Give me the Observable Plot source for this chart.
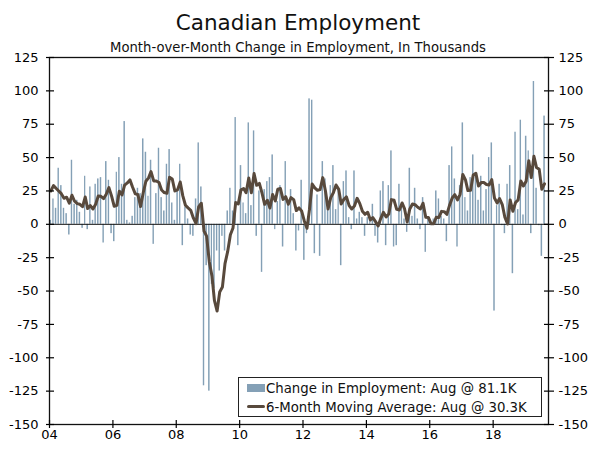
<!DOCTYPE html>
<html>
<head>
<meta charset="utf-8">
<script src="https://cdn.jsdelivr.net/npm/d3@7"></script>
<script src="https://cdn.jsdelivr.net/npm/@observablehq/plot@0.6"></script>
<style>
  body { margin: 0; background: #fff; font-family: "DejaVu Sans", Verdana, sans-serif; }
  #wrap { position: relative; width: 600px; height: 452px; overflow: hidden; background: #fff; }
  #title { position: absolute; left: 0; width: 596px; top: 12px; text-align: center; font-size: 21.5px; line-height: 21.5px; color: #111; white-space: nowrap; }
  #subtitle { position: absolute; left: 0; width: 596px; top: 41px; text-align: center; font-size: 13.2px; line-height: 13px; color: #111; white-space: nowrap; }
  #chart { position: absolute; left: 0; top: 44px; }
  #legend { position: absolute; left: 238px; top: 377px; width: 302px; height: 38px; border: 1px solid #222; background: #fff; }
  #legend .sw { position: absolute; }
  #legend .tx { position: absolute; left: 27px; font-size: 13.3px; line-height: 13px; color: #111; white-space: nowrap; }
</style>
</head>
<body>
<div id="wrap">
  <div id="title">Canadian Employment</div>
  <div id="subtitle">Month-over-Month Change in Employment, In Thousands</div>
  <div id="chart"></div>
  <div id="legend"></div>
</div>
<script>
// ---- Data (thousands, monthly, Jan 2004 – Aug 2019) ----
const startYear = 2004;
const employmentChange = [
  // 2004
  3, 19, 12, 42, 29, 12, 8, -8, 48, 15, 18, 9,
  // 2005
  -3, 36, -4, 28, 3, 30, 34, 35, -14, 47, 33, -7,
  // 2006
  -13, 39, 50, 30, 77, 3, 1, 6, 20, 27, 23, 64,
  // 2007
  54, 21, 48, -15, 23, 57, 20, 10, 45, 56, 16, 3,
  // 2008
  25, 45, -16, 13, 4, -8, -9, 19, 61, 28, -121, -31,
  // 2009
  -125, -45, -48, -20, -35, -9, -20, 10, 27, 10, 80, -16,
  // 2010
  44, 16, 8, 76, 14, 70, -9, 25, -36, 26, 32, 35,
  // 2011
  52, -4, 17, 29, -17, 47, 18, 26, 8, -20, -5, 33,
  // 2012
  -27, -7, 94, 93, -22, 22, -24, 47, 34, 12, 29, 44,
  // 2013
  11, 27, -31, 32, 40, 5, -4, 40, 4, 9, 5, -9,
  // 2014
  5, 5, 15, -9, -14, 25, 32, -16, 29, 55, -17, -16,
  // 2015
  30, 15, 4, -6, 42, 6, 27, 4, -4, 20, -21, 5,
  // 2016
  -1, 4, 25, 19, 6, 4, -13, 44, 58, 34, -17, 29,
  // 2017
  76, 20, 10, 35, 52, 37, 18, 36, 10, 26, 50, 61,
  // 2018
  -65, 14, 30, -1, -7, 30, 44, -37, 69, 11, 78, 7,
  // 2019
  66, 55, -7, 107, 27, -1, -24, 81.1
];
const movingAverage = [
  // 2004
  25, 29, 27, 25, 23, 19.5, 20.3, 15.8, 21.8, 17.3, 15.5, 15,
  // 2005
  13.2, 20.5, 11.8, 14, 11.5, 15, 21.2, 21, 19.3, 22.5, 27.5, 21.3,
  // 2006
  13.5, 14.2, 24.8, 22, 29.3, 31, 33.3, 27.8, 22.8, 22.3, 13.3, 23.5,
  // 2007
  32.3, 34.8, 39.5, 32.5, 32.5, 31.3, 25.7, 23.8, 23.3, 35.2, 34, 25,
  // 2008
  25.8, 31.7, 21.5, 14.3, 12.3, 10.5, 4.8, 0.5, 13.3, 15.8, -5, -8.8,
  // 2009
  -28.2, -38.8, -57, -65, -50.7, -47, -29.5, -20.3, -7.8, -2.8, 16.3, 15.2,
  // 2010
  25.8, 26.8, 23.7, 34.7, 23.7, 38, 29.2, 30.7, 23.3, 15, 18, 12.2,
  // 2011
  22.3, 17.5, 26.3, 26.8, 18.7, 20.7, 15, 20, 18.5, 10.3, 12.3, 10,
  // 2012
  2.5, -3, 11.3, 30.2, 27.3, 25.5, 26, 35, 25, 11.5, 20, 23.7,
  // 2013
  29.5, 26.2, 15.3, 18.7, 20.5, 14, 11.5, 13.7, 19.5, 15.7, 9.8, 7.5,
  // 2014
  9, 3.2, 5, 2, -1.2, 4.5, 9, 5.5, 7.8, 18.5, 18, 11.2,
  // 2015
  10.8, 16, 11.8, 1.7, 11.5, 15.2, 14.7, 12.8, 11.5, 15.8, 5.3, 5.2,
  // 2016
  0.5, 0.5, 5.3, 5.2, 9.7, 9.5, 7.5, 14.2, 19.7, 22.2, 18.3, 22.5,
  // 2017
  37.3, 33.3, 25.3, 25.5, 37, 38.3, 28.7, 31.3, 31.3, 29.8, 29.5, 33.5,
  // 2018
  19.7, 16, 19.3, 14.8, 5.3, 0.2, 18.3, 9.8, 16.3, 18.3, 32.5, 28.7,
  // 2019
  32.3, 47.7, 35, 51, 42.5, 41.2, 26.2, 30.3
];
const yTicks = [-150, -125, -100, -75, -50, -25, 0, 25, 50, 75, 100, 125];
const tickYears = [2004, 2006, 2008, 2010, 2012, 2014, 2016, 2018];
const tickLabels = ["04", "06", "08", "10", "12", "14", "16", "18"];
const legendLabels = ["Change in Employment: Aug @ 81.1K", "6-Month Moving Average: Aug @ 30.3K"];

const barColor = "#84a0b6";
const lineColor = "#58493c";

// ---- Build rows ----
const rows = employmentChange.map((v, i) => ({
  start: new Date(Date.UTC(startYear, i, 1)),
  end: new Date(Date.UTC(startYear, i + 1, 1)),
  mid: new Date(Date.UTC(startYear, i, 16)),
  value: v,
  avg: movingAverage[i]
}));
const xTickDates = tickYears.map(y => new Date(Date.UTC(y, 0, 1)));
const labelOf = new Map(xTickDates.map((d, i) => [+d, tickLabels[i]]));

const chart = Plot.plot({
  width: 600,
  height: 408,
  marginTop: 13,
  marginBottom: 28,
  marginLeft: 49,
  marginRight: 52,
  style: { fontFamily: "DejaVu Sans, Verdana, sans-serif", fontSize: "13px", color: "#000", background: "transparent", overflow: "visible" },
  x: { type: "utc", domain: [new Date(Date.UTC(2004, 0, 1)), new Date(Date.UTC(2019, 9, 1))], axis: null },
  y: { domain: [-150, 125], axis: null },
  marks: [
    Plot.rect(rows, { x1: "start", x2: "end", y1: 0, y2: "value", fill: barColor, insetLeft: 0.6, insetRight: 0.6 }),
    Plot.ruleY([0], { stroke: "#111", strokeWidth: 1 }),
    Plot.line(rows, { x: "mid", y: "avg", stroke: lineColor, strokeWidth: 3, strokeLinejoin: "round" }),
    Plot.frame({ stroke: "#111", strokeWidth: 1.3 }),
    // left axis
    Plot.axisY(yTicks, { anchor: "left", tickSize: 8, dx: 5, tickFormat: () => "", strokeWidth: 1.2 }),
    Plot.axisY(yTicks, { anchor: "left", tickSize: 0, tickPadding: 11, tickFormat: d => String(d) }),
    // right axis
    Plot.axisY(yTicks, { anchor: "right", tickSize: 10, dx: -5, tickFormat: () => "", strokeWidth: 1.2 }),
    Plot.axisY(yTicks, { anchor: "right", tickSize: 0, tickPadding: 10, tickFormat: d => String(d) }),
    // bottom axis
    Plot.axisX(xTickDates, { anchor: "bottom", tickSize: 8, dy: -4, tickFormat: () => "", strokeWidth: 1.2 }),
    Plot.axisX(xTickDates, { anchor: "bottom", tickSize: 0, tickPadding: 5, tickFormat: d => labelOf.get(+d) })
  ]
});
document.getElementById("chart").appendChild(chart);

// ---- Legend ----
const legend = document.getElementById("legend");
legend.innerHTML =
  `<div class="sw" style="left:7.5px;top:6px;width:18px;height:8px;background:${barColor}"></div>` +
  `<div class="tx" style="top:3.5px">${legendLabels[0]}</div>` +
  `<div class="sw" style="left:7.5px;top:27px;width:18px;height:3px;border-radius:1.5px;background:${lineColor}"></div>` +
  `<div class="tx" style="top:22.8px">${legendLabels[1]}</div>`;
</script>
</body>
</html>
